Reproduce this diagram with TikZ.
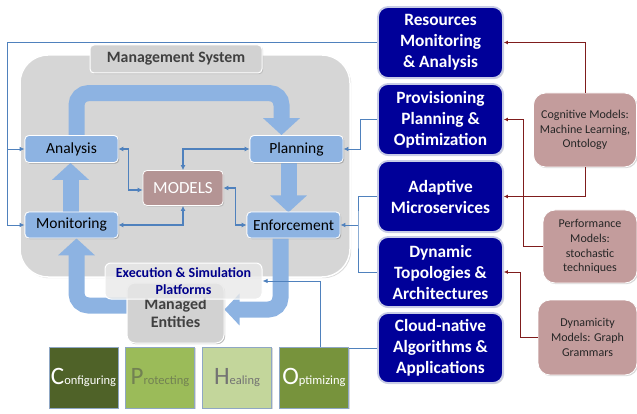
\documentclass[tikz,border=0pt]{standalone}
\usepackage{fontspec}
\setmainfont{Carlito}
\usetikzlibrary{arrows.meta,shadows}
\newcommand\myfs[2]{\fontsize{#1}{#2}\selectfont}
\definecolor{arrowblue}{HTML}{8DB3E2}
\definecolor{linkblue}{HTML}{4F81BD}
\definecolor{navyc}{HTML}{000099}
\definecolor{navyedge}{HTML}{C8CCE6}
\definecolor{pinkc}{HTML}{C39C9C}
\definecolor{modelc}{HTML}{B49494}
\definecolor{darkred}{HTML}{7F1D1D}
\definecolor{mgmtgray}{HTML}{D6D6D6}
\definecolor{labgray}{HTML}{D2D2D2}
\definecolor{textgray}{HTML}{404040}
\definecolor{execblue}{HTML}{00008B}
\definecolor{confc}{HTML}{4F6228}
\definecolor{protc}{HTML}{9BBB59}
\definecolor{healc}{HTML}{C3D69B}
\definecolor{optc}{HTML}{77933C}
\definecolor{sqedge}{HTML}{8FA7C4}
\begin{document}
\begin{tikzpicture}[x=1pt,y=-1pt,
  shad/.style={drop shadow={opacity=0.3,shadow xshift=1.2pt,shadow yshift=-1.2pt}},
  bx/.style={shad,rounded corners=4pt,minimum width=93pt,minimum height=27pt,inner sep=0pt,
    fill=arrowblue,draw=white,line width=0.8pt,font=\myfs{15.5}{18},text=black},
  navybox/.style={shad,rounded corners=10pt,minimum width=125pt,minimum height=71pt,inner sep=0pt,
    fill=navyc,draw=navyedge,line width=1.8pt,text=white,align=center,font=\bfseries\myfs{17.3}{21}},
  pinkbox/.style={shad,rounded corners=12pt,inner sep=0pt,fill=pinkc,draw=white,line width=0.8pt,
    text=black!85,align=center,font=\myfs{12}{14.8}},
  sq/.style={shad,minimum width=69pt,minimum height=61pt,inner sep=0pt,draw=sqedge,line width=0.8pt},
  band/.style={line width=16pt,arrowblue,rounded corners=12pt},
  tipA/.style={-{Triangle[width=36pt,length=17pt]}},
  tipB/.style={-{Triangle[width=31pt,length=15pt]}},
  dbl/.style={linkblue,line width=1.2pt,{Latex[length=5pt,width=5pt]}-{Latex[length=5pt,width=5pt]}},
  outl/.style={linkblue,line width=0.9pt},
  outarr/.style={linkblue,line width=0.9pt,-{Latex[length=5pt,width=4.5pt]}},
  redl/.style={darkred,line width=1pt,-{Latex[length=4pt,width=4pt]}}
]
\useasboundingbox (0,0) rectangle (637,414);

% management system background
\node[shad,rounded corners=28pt,minimum width=330pt,minimum height=222pt,inner sep=0pt,
  fill=mgmtgray,draw=white,line width=1.5pt] (mgmt) at (185,166) {};
\node[shad,rounded corners=4pt,minimum width=172pt,minimum height=28pt,inner sep=0pt,
  fill=labgray,draw=white,line width=1pt,text=textgray,font=\bfseries\myfs{15.8}{18}] (mslabel) at (176,59) {Management System};

% inner boxes (positions)
\node[bx] (analysis) at (71.5,149) {Analysis};
\node[bx] (planning) at (296.5,149) {Planning};
\node[bx,minimum height=26pt] (monitoring) at (71.5,225) {Monitoring};
\node[bx,minimum height=26pt] (enforcement) at (293.5,225) {Enforcement};
\node[shad,rounded corners=4pt,minimum width=80pt,minimum height=35pt,inner sep=0pt,
  fill=modelc,draw=white,line width=0.8pt,text=white,font=\myfs{17}{20}] (models) at (183,188) {MODELS};
\node[shad,rounded corners=8pt,minimum width=97pt,minimum height=60pt,inner sep=0pt,
  fill=labgray,draw=white,line width=1pt,text=textgray,align=center,font=\bfseries\myfs{16}{18}] (managed) at (175.5,313) {\raisebox{0pt}{Managed}\\Entities};

% big blue arrows
\begin{scope}[on background layer/.style={}]
\draw[band,tipA] ([xshift=5pt]analysis.north) -- ++(0,-42) -| ([xshift=-15pt]planning.north);
\draw[band,tipA] ([xshift=-8pt]planning.south) -- ++(0,49.5);
\draw[band,tipA] ([xshift=-1pt]monitoring.north) -- ([xshift=-1pt]analysis.south);
\draw[band,tipB] ([xshift=-13pt]enforcement.south) |- ([yshift=3.5pt]managed.east);
\draw[band,tipA] ([yshift=7.5pt]managed.west) -| ([xshift=5pt]monitoring.south);
\end{scope}

% redraw boxes on top of arrows
\node[bx] at (analysis) {Analysis};
\node[bx] at (planning) {Planning};
\node[bx,minimum height=26pt] at (monitoring) {Monitoring};
\node[bx,minimum height=26pt] at (enforcement) {Enforcement};
\node[shad,rounded corners=8pt,minimum width=97pt,minimum height=60pt,inner sep=0pt,
  fill=labgray,draw=white,line width=1pt,text=textgray,align=center,font=\bfseries\myfs{16}{18}] at (managed) {Managed\\Entities};

% execution platforms (semi-transparent, over managed entities)
\node[rounded corners=6pt,minimum width=157pt,minimum height=36pt,inner sep=0pt,
  fill=gray!18,fill opacity=0.8,draw=white,line width=1pt,text opacity=1,text=execblue,align=center,
  font=\bfseries\myfs{14}{17}] (exec) at (183.5,281) {Execution \& Simulation\\Platforms};

% thin double arrows to MODELS
\draw[dbl] (analysis.east) -- ++(10,0) |- ([yshift=-2pt]models.west);
\draw[dbl] (planning.west) -| (models.north);
\draw[dbl] (monitoring.east) -| (models.south);
\draw[dbl] (models.east) -- ++(12,0) |- (enforcement.west);

% right navy boxes
\node[navybox] (res) at (440.5,42.5) {Resources\\Monitoring\\\& Analysis};
\node[navybox] (prov) at (440.5,119.5) {Provisioning\\Planning \&\\Optimization};
\node[navybox] (adapt) at (440.5,196.5) {Adaptive\\Microservices};
\node[navybox,minimum height=70pt] (dyn) at (440.5,272) {Dynamic\\Topologies \&\\Architectures};
\node[navybox,minimum height=70pt] (cloud) at (440.5,348) {Cloud-native\\Algorithms \&\\Applications};

% pink model boxes
\node[pinkbox,minimum width=103pt,minimum height=74pt] (cog) at (585,130) {Cognitive Models:\\Machine Learning,\\Ontology};
\node[pinkbox,minimum width=94pt,minimum height=73pt] (perf) at (590,246.5) {Performance\\Models:\\stochastic\\techniques};
\node[pinkbox,minimum width=99pt,minimum height=75pt] (dynm) at (587.5,337.5) {Dynamicity\\Models: Graph\\Grammars};

% outer blue connectors
\draw[outl] (res.west) -| ([xshift=-17pt]analysis.west);
\draw[outarr] ([xshift=-17pt]analysis.west) -- (analysis.west);
\draw[outarr] ([xshift=-17pt]analysis.west) |- (monitoring.west);
\draw[outarr] (prov.west) -| ([xshift=17pt]planning.east) -- (planning.east);
\coordinate (bj) at (358,225);
\draw[outl] (adapt.west) -| (bj) |- (dyn.west);
\draw[outarr] (bj) -- (enforcement.east);
\draw[outarr] (cloud.west) -| ([xshift=58pt]exec.east) -- (exec.east);

% dark red connectors
\draw[redl] (cog.north) |- (res.east);
\draw[redl] (cog.south) |- (adapt.east);
\draw[redl] (perf.west) -| ([xshift=20pt]prov.east) -- (prov.east);
\draw[redl] (dynm.west) -| ([xshift=17pt]dyn.east) -- (dyn.east);

% bottom squares
\node[sq,fill=confc,text=white] (conf) at (83.5,377.5) {{\myfs{25}{25}C}{\myfs{12.5}{14}onfiguring}};
\node[sq,fill=protc,text=confc!80] (prot) at (160,377.5) {{\myfs{25}{25}P}{\myfs{12.5}{14}rotecting}};
\node[sq,fill=healc,text=black!55] (heal) at (237,377.5) {{\myfs{25}{25}H}{\myfs{12.5}{14}ealing}};
\node[sq,fill=optc,text=white] (opt) at (314,377.5) {{\myfs{25}{25}O}{\myfs{12.5}{14}ptimizing}};
\end{tikzpicture}
\end{document}
